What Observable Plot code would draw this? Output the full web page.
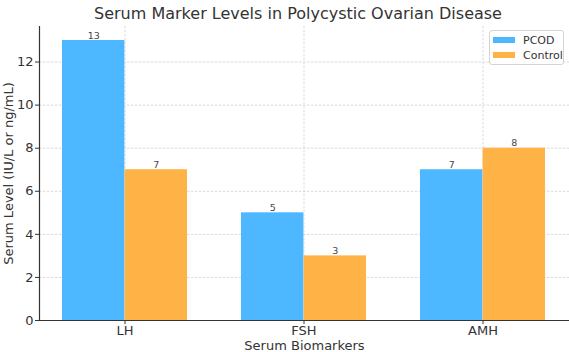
<!DOCTYPE html>
<html>
<head>
<meta charset="utf-8">
<script src="https://cdn.jsdelivr.net/npm/d3@7"></script>
<script src="https://cdn.jsdelivr.net/npm/@observablehq/plot@0.6"></script>
<style>
  html, body { margin: 0; padding: 0; background: #fff; }
  body { width: 569px; height: 352px; overflow: hidden; font-family: "DejaVu Sans", sans-serif; }
  #wrap { position: relative; width: 569px; height: 352px; }
  #title { position: absolute; left: 28px; width: 540px; top: 0; height: 26px; line-height: 28px; text-align: center; font-size: 16px; color: #333; }
  #chart { position: absolute; left: 0; top: 26px; }
  #legend { position: absolute; left: 489px; top: 30px; width: 73px; height: 33px; border: 1px solid #d4d4d4; border-radius: 3px; background: rgba(255,255,255,0.85); font-size: 11px; color: #333; }
  .item { position: absolute; left: 3px; height: 14px; display: flex; align-items: center; }
  .sw { width: 22px; height: 6px; margin-right: 8px; }
</style>
</head>
<body>
<div id="wrap">
  <div id="title">Serum Marker Levels in Polycystic Ovarian Disease</div>
  <div id="chart"></div>
  <div id="legend"></div>
</div>
<script>
const categories = ["LH", "FSH", "AMH"];
const seriesNames = ["PCOD", "Control"];
const pcodValues = [13, 5, 7];
const controlValues = [7, 3, 8];
const yTicks = [0, 2, 4, 6, 8, 10, 12];
const colors = ["#4db8ff", "#ffb347"];

const data = categories.map((c, i) => ({category: c, PCOD: pcodValues[i], Control: controlValues[i]}));

const half = 62.6;
const gridStyle = {stroke: "#d0d0d0", strokeOpacity: 1, strokeDasharray: "2.5,1.5", strokeWidth: 0.8};

const chart = Plot.plot({
  width: 569,
  height: 326,
  marginLeft: 39,
  marginRight: 0,
  marginTop: 0,
  marginBottom: 32,
  style: {fontFamily: "DejaVu Sans, sans-serif", color: "#333", background: "white"},
  x: {domain: categories, paddingInner: 0.3, paddingOuter: 0.13},
  y: {domain: [0, 13.65]},
  marks: [
    Plot.gridY(yTicks, gridStyle),
    Plot.gridX(categories, gridStyle),
    Plot.barY(data, {x: "category", y: "PCOD", fill: colors[0], insetRight: half, insetLeft: 0}),
    Plot.barY(data, {x: "category", y: "Control", fill: colors[1], insetLeft: half, insetRight: 0}),
    Plot.text(data, {x: "category", y: "PCOD", text: d => String(d.PCOD), dx: -half / 2, dy: -5, fontSize: 9.5, fill: "#444"}),
    Plot.text(data, {x: "category", y: "Control", text: d => String(d.Control), dx: half / 2, dy: -5, fontSize: 9.5, fill: "#444"}),
    Plot.axisY(yTicks, {tickSize: 4, tickPadding: 2, fontSize: 13, label: "Serum Level (IU/L or ng/mL)", labelAnchor: "center", labelArrow: "none", labelOffset: 36, stroke: "#333"}),
    Plot.axisX({tickSize: 4, tickPadding: 1, fontSize: 13, label: "Serum Biomarkers", labelAnchor: "center", labelArrow: "none", labelOffset: 29, stroke: "#333"}),
    Plot.ruleY([0], {stroke: "#333", strokeWidth: 1.2}),
    Plot.frame({anchor: "left", stroke: "#333", strokeWidth: 1.2})
  ]
});
document.getElementById("chart").appendChild(chart);

const legend = document.getElementById("legend");
seriesNames.forEach((name, i) => {
  const item = document.createElement("div");
  item.className = "item";
  item.style.top = (2 + i * 15) + "px";
  const sw = document.createElement("div");
  sw.className = "sw";
  sw.style.background = colors[i];
  const label = document.createElement("span");
  label.textContent = name;
  item.appendChild(sw);
  item.appendChild(label);
  legend.appendChild(item);
});
</script>
</body>
</html>
